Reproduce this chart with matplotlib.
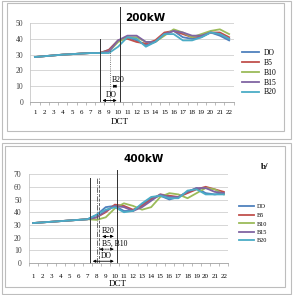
import matplotlib
matplotlib.use('Agg')
import matplotlib.pyplot as plt
from matplotlib.patches import Rectangle

dct = list(range(1, 23))
series_names = ['DO', 'B5', 'B10', 'B15', 'B20']
colors = ['#4F81BD', '#C0504D', '#9BBB59', '#8064A2', '#4BACC6']

# 200kW
do_200 = [28.5, 29, 29.5, 30, 30.3, 30.7, 31, 31, 33, 39, 41, 39, 36, 38, 43, 45, 41, 40, 41, 44, 42, 39]
b5_200 = [28.5, 29, 29.5, 30, 30.3, 30.7, 31, 31, 33, 39, 40, 38, 37, 39, 44, 45, 43, 41, 42, 44, 44, 41]
b10_200 = [28.5, 29, 29.5, 30, 30.3, 30.7, 31, 31, 32, 38, 41, 41, 38, 38, 42, 46, 44, 41, 43, 45, 46, 43]
b15_200 = [28.5, 29, 29.5, 30, 30.3, 30.7, 31, 31, 32, 39, 42, 42, 38, 38, 43, 45, 44, 42, 42, 44, 43, 40]
b20_200 = [28.5, 29, 29.5, 30, 30.3, 30.7, 31, 31, 31, 35, 41, 40, 35, 38, 43, 43, 39, 39, 41, 44, 43, 40]

# 400kW
do_400 = [31.5, 32, 32.5, 33, 33.5, 34, 34.5, 38, 44, 45, 41, 41, 46, 51, 53, 50, 52, 56, 59, 55, 54, 55]
b5_400 = [31.5, 32, 32.5, 33, 33.5, 34, 34.5, 36, 40, 46, 45, 42, 45, 50, 54, 53, 52, 55, 58, 60, 58, 56]
b10_400 = [31.5, 32, 32.5, 33, 33.5, 34, 34.5, 34, 36, 43, 47, 45, 42, 44, 52, 55, 54, 51, 55, 59, 58, 54]
b15_400 = [31.5, 32, 32.5, 33, 33.5, 34, 34.5, 36, 41, 45, 44, 41, 44, 49, 54, 52, 52, 56, 59, 59, 56, 55]
b20_400 = [31.5, 32, 32.5, 33, 33.5, 34, 34.5, 38, 42, 44, 40, 41, 47, 52, 53, 51, 51, 57, 58, 54, 54, 54]

serif = 'Liberation Serif'


def style_axes(ax, ymax, xpad):
    ax.set_xlim(0.5, 22.5)
    ax.set_ylim(0, ymax)
    ax.set_yticks(range(0, ymax + 1, 10))
    ax.yaxis.grid(True, color='#d0d0d0', linewidth=0.6)
    ax.set_axisbelow(True)
    for s in ['top', 'right']:
        ax.spines[s].set_visible(False)
    ax.spines['left'].set_color('#c8c8c8')
    ax.spines['bottom'].set_color('#a0a0a0')
    ax.spines['left'].set_linewidth(0.6)
    ax.spines['bottom'].set_linewidth(0.6)
    ax.set_xticks(dct)
    ax.set_xticklabels([str(d) for d in dct], fontsize=5, family=serif)
    ax.set_xticks([d + 0.5 for d in [0] + dct], minor=True)
    ax.tick_params(axis='x', which='major', length=0, pad=xpad)
    ax.tick_params(axis='x', which='minor', length=2, color='#a0a0a0', width=0.5)
    ax.tick_params(axis='y', length=0, labelsize=5.5, pad=5, labelcolor='#404040')
    for t in ax.get_yticklabels():
        t.set_family(serif)


fig = plt.figure(figsize=(2.97, 2.95), dpi=100)

# panel frames
fig.patches.append(Rectangle((2 / 297, 1 - 139 / 295), 289 / 297, 138 / 295, transform=fig.transFigure,
                             fill=False, edgecolor='#bdbdbd', linewidth=0.8))
fig.patches.append(Rectangle((7 / 297, 1 - 131 / 295), 277 / 297, 128 / 295, transform=fig.transFigure,
                             fill=False, edgecolor='#bdbdbd', linewidth=0.8))
fig.patches.append(Rectangle((2 / 297, 1 - 294 / 295), 289 / 297, 151 / 295, transform=fig.transFigure,
                             fill=False, edgecolor='#bdbdbd', linewidth=0.8))
fig.patches.append(Rectangle((5 / 297, 1 - 287 / 295), 280 / 297, 141 / 295, transform=fig.transFigure,
                             fill=False, edgecolor='#bdbdbd', linewidth=0.8))

# top chart
ax1 = fig.add_axes([0.102, 0.654, 0.685, 0.268])
for name, vals, c in zip(series_names, [do_200, b5_200, b10_200, b15_200, b20_200], colors):
    ax1.plot(dct, vals, color=c, linewidth=1.3, label=name)
style_axes(ax1, 50, 6)
fig.text(145 / 297, 1 - 18 / 295, '200kW', fontsize=7.5, fontweight='bold', ha='center', va='center')
fig.text(120 / 297, 1 - 122 / 295, 'DCT', fontsize=6.5, family=serif, ha='center', va='center')
ax1.plot([8, 8], [0, 40], color='#303030', linewidth=0.7)
ax1.plot([9.15, 9.15], [0, 33], color='#505050', linewidth=0.6, linestyle=':')
ax1.plot([10.15, 10.15], [0, 60], color='#303030', linewidth=0.7, clip_on=False)
ax1.annotate('', xy=(8, 1), xytext=(10.15, 1),
             arrowprops=dict(arrowstyle='<|-|>', color='black', lw=0.6, mutation_scale=4))
ax1.text(9.3, 3, 'DO', fontsize=5.5, family=serif, ha='center')
ax1.annotate('', xy=(9.15, 10), xytext=(10.15, 10),
             arrowprops=dict(arrowstyle='<|-|>', color='black', lw=0.6, mutation_scale=4))
ax1.text(10.0, 12.5, 'B20', fontsize=5.5, family=serif, ha='center')
ax1.legend(loc='upper left', bbox_to_anchor=(238 / 297, 1 - 45 / 295), bbox_transform=fig.transFigure,
           frameon=False, prop={'family': serif, 'size': 5.5},
           handlelength=2.3, labelspacing=0.25, borderpad=0, handletextpad=0.6)

# bottom chart
ax2 = fig.add_axes([0.096, 0.108, 0.673, 0.302])
for name, vals, c in zip(series_names, [do_400, b5_400, b10_400, b15_400, b20_400], colors):
    ax2.plot(dct, vals, color=c, linewidth=1.3, label=name)
style_axes(ax2, 70, 8)
fig.text(144 / 297, 1 - 159 / 295, '400kW', fontsize=7.5, fontweight='bold', ha='center', va='center')
fig.text(118 / 297, 1 - 284 / 295, 'DCT', fontsize=6.5, family=serif, ha='center', va='center')
fig.text(265 / 297, 1 - 167 / 295, 'b/', fontsize=6.5, fontweight='bold', family=serif, ha='center', va='center')
ax2.plot([7.26, 7.26], [0, 67], color='#303030', linewidth=0.7, clip_on=False)
ax2.plot([8.0, 8.0], [0, 67], color='#505050', linewidth=0.6, linestyle='-.', clip_on=False)
ax2.plot([8.3, 8.3], [0, 67], color='#505050', linewidth=0.6, linestyle='--', clip_on=False)
ax2.plot([10.2, 10.2], [0, 73], color='#303030', linewidth=0.7, clip_on=False)
ax2.annotate('', xy=(7.26, 1.5), xytext=(10.2, 1.5),
             arrowprops=dict(arrowstyle='<|-|>', color='black', lw=0.6, mutation_scale=4))
ax2.text(9.1, 4, 'DO', fontsize=5.5, family=serif, ha='center')
ax2.annotate('', xy=(8.0, 11), xytext=(10.2, 11),
             arrowprops=dict(arrowstyle='<|-|>', color='black', lw=0.6, linestyle=':', mutation_scale=4))
ax2.text(10.0, 14, 'B5, B10', fontsize=5.5, family=serif, ha='center')
ax2.annotate('', xy=(8.3, 21), xytext=(10.2, 21),
             arrowprops=dict(arrowstyle='<|-|>', color='black', lw=0.6, linestyle='--', mutation_scale=4))
ax2.text(9.3, 24, 'B20', fontsize=5.5, family=serif, ha='center')
ax2.legend(loc='upper left', bbox_to_anchor=(236 / 297, 1 - 201 / 295), bbox_transform=fig.transFigure,
           frameon=False, prop={'family': serif, 'size': 4.5},
           handlelength=2.3, labelspacing=0.5, borderpad=0, handletextpad=0.6)

fig.savefig('out.png', dpi=100, facecolor='white')
